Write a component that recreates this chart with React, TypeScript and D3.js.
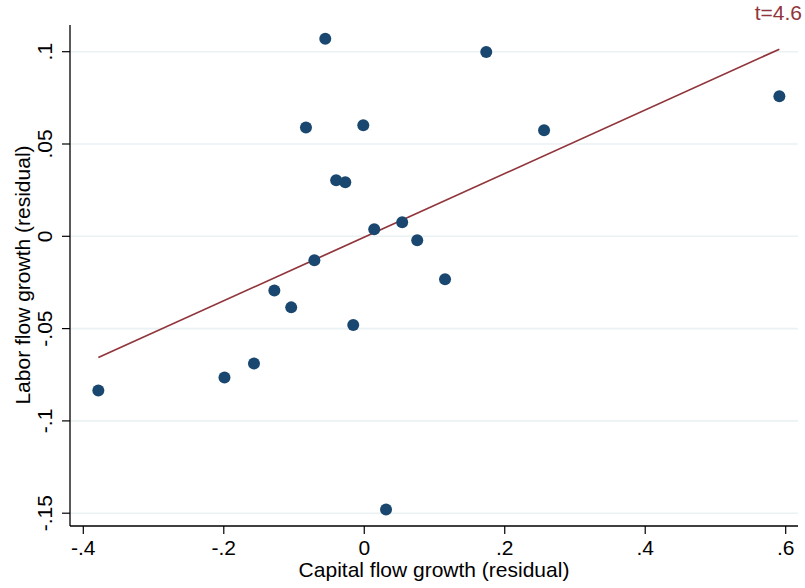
import React, { useRef, useEffect } from 'react';
import * as d3 from 'd3';

// capital flow growth (residual), x
const capitalGrowth = [
  -0.3786, -0.199, -0.157, -0.128, -0.104, -0.071, -0.083, -0.0555, -0.04, -0.027,
  -0.0157, -0.0014, 0.0142, 0.054, 0.0754, 0.115, 0.031, 0.1737, 0.256, 0.591,
];
// labor flow growth (residual), y
const laborGrowth = [
  -0.0835, -0.0765, -0.0689, -0.0293, -0.0385, -0.013, 0.059, 0.107, 0.0304, 0.0293,
  -0.048, 0.0602, 0.0038, 0.0076, -0.0022, -0.0233, -0.148, 0.0998, 0.0575, 0.0759,
];

const xTicks = [-0.4, -0.2, 0, 0.2, 0.4, 0.6];
const xTickLabels = ['-.4', '-.2', '0', '.2', '.4', '.6'];
const yTicks = [-0.15, -0.1, -0.05, 0, 0.05, 0.1];
const yTickLabels = ['-.15', '-.1', '-.05', '0', '.05', '.1'];
const tLabel = 't=4.6';

const FONT = '"Liberation Sans", Arial, sans-serif';
const NAVY = '#1a476f';
const MAROON = '#90353b';

const App = () => {
  const svgRef = useRef<SVGSVGElement | null>(null);

  useEffect(() => {
    const svg = d3.select(svgRef.current);
    svg.selectAll('*').remove();

    // plot frame (axis lines)
    const left = 70;
    const right = 798;
    const top = 25;
    const bottom = 526;

    const x = d3.scaleLinear().domain([-0.4, 0.6]).range([83.3, 785.7]);
    const y = d3.scaleLinear().domain([-0.15, 0.1]).range([513.2, 51.7]);

    // gridlines
    svg
      .append('g')
      .selectAll('line')
      .data(yTicks)
      .enter()
      .append('line')
      .attr('x1', left)
      .attr('x2', right)
      .attr('y1', (d) => y(d))
      .attr('y2', (d) => y(d))
      .attr('stroke', '#eaf2f3')
      .attr('stroke-width', 1.6);

    // fitted line (OLS over the data range)
    const pts = capitalGrowth.map((v, i) => [v, laborGrowth[i]]);
    const mx = d3.mean(capitalGrowth) as number;
    const my = d3.mean(laborGrowth) as number;
    const sxy = d3.sum(pts, (p) => (p[0] - mx) * (p[1] - my));
    const sxx = d3.sum(capitalGrowth, (v) => (v - mx) * (v - mx));
    const slope = sxy / sxx;
    const intercept = my - slope * mx;
    const [x0, x1] = d3.extent(capitalGrowth) as [number, number];
    const fit = [x0, x1].map((v) => [v, intercept + slope * v]);

    svg
      .append('path')
      .attr('d', d3.line().x((d) => x(d[0])).y((d) => y(d[1]))(fit as [number, number][]))
      .attr('stroke', MAROON)
      .attr('stroke-width', 1.7)
      .attr('fill', 'none');

    // dots
    svg
      .append('g')
      .selectAll('circle')
      .data(pts)
      .enter()
      .append('circle')
      .attr('cx', (d) => x(d[0]))
      .attr('cy', (d) => y(d[1]))
      .attr('r', 6)
      .attr('fill', NAVY);

    // axes
    svg
      .append('line')
      .attr('x1', left).attr('x2', left)
      .attr('y1', top).attr('y2', bottom)
      .attr('stroke', '#000').attr('stroke-width', 1.3);
    svg
      .append('line')
      .attr('x1', left).attr('x2', right)
      .attr('y1', bottom).attr('y2', bottom)
      .attr('stroke', '#000').attr('stroke-width', 1.3);

    // y ticks and labels
    const yg = svg.append('g');
    yg.selectAll('line')
      .data(yTicks)
      .enter()
      .append('line')
      .attr('x1', left - 8)
      .attr('x2', left)
      .attr('y1', (d) => y(d))
      .attr('y2', (d) => y(d))
      .attr('stroke', '#000')
      .attr('stroke-width', 1.2);
    yg.selectAll('text')
      .data(yTicks)
      .enter()
      .append('text')
      .attr('transform', (d) => `translate(52, ${y(d)}) rotate(-90)`)
      .attr('text-anchor', 'middle')
      .attr('font-family', FONT)
      .attr('font-size', 21)
      .attr('fill', '#000')
      .text((d, i) => yTickLabels[i]);

    // x ticks and labels
    const xg = svg.append('g');
    xg.selectAll('line')
      .data(xTicks)
      .enter()
      .append('line')
      .attr('x1', (d) => x(d))
      .attr('x2', (d) => x(d))
      .attr('y1', bottom)
      .attr('y2', bottom + 8)
      .attr('stroke', '#000')
      .attr('stroke-width', 1.2);
    xg.selectAll('text')
      .data(xTicks)
      .enter()
      .append('text')
      .attr('x', (d) => x(d))
      .attr('y', 554.5)
      .attr('text-anchor', 'middle')
      .attr('font-family', FONT)
      .attr('font-size', 21)
      .attr('fill', '#000')
      .text((d, i) => xTickLabels[i]);

    // axis titles
    svg
      .append('text')
      .attr('x', 434)
      .attr('y', 577)
      .attr('text-anchor', 'middle')
      .attr('font-family', FONT)
      .attr('font-size', 21)
      .attr('fill', '#000')
      .text('Capital flow growth (residual)');
    svg
      .append('text')
      .attr('transform', 'translate(30, 275) rotate(-90)')
      .attr('text-anchor', 'middle')
      .attr('font-family', FONT)
      .attr('font-size', 21)
      .attr('fill', '#000')
      .text('Labor flow growth (residual)');

    // t-stat note
    svg
      .append('text')
      .attr('x', 802)
      .attr('y', 20)
      .attr('text-anchor', 'end')
      .attr('font-family', FONT)
      .attr('font-size', 21)
      .attr('fill', MAROON)
      .text(tLabel);
  }, []);

  return (
    <svg
      ref={svgRef}
      width={805}
      height={588}
      style={{ position: 'absolute', left: 0, top: 0, background: '#fff' }}
    ></svg>
  );
};

export default App;
